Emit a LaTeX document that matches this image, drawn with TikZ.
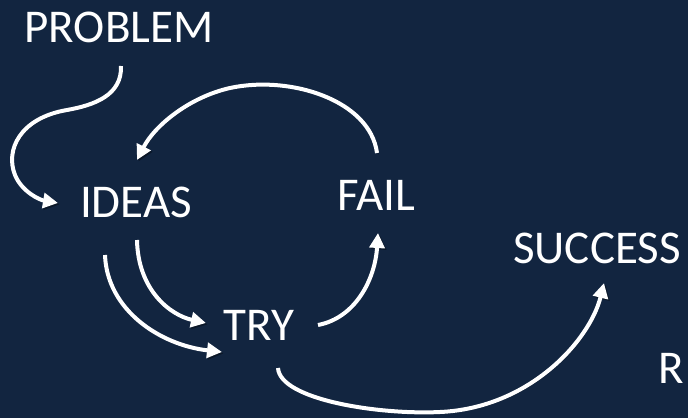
\documentclass[tikz,border=0pt]{standalone}
\usepackage{fontspec}
\setmainfont{Carlito}
\usetikzlibrary{arrows.meta}
\definecolor{bg}{RGB}{18,37,64}
\begin{document}
\begin{tikzpicture}[x=1pt,y=-1pt,
  lbl/.style={text=white,inner sep=0pt,anchor=base,font=\fontsize{47}{56}\selectfont},
  flow/.style={draw=white,line width=4pt,-{Triangle[length=15pt,width=15pt]},
    preaction={draw=black,opacity=0.35,transform canvas={shift={(1.5pt,-1.5pt)}}}}]
\fill[bg] (0,0) rectangle (688,418);
\useasboundingbox (0,0) rectangle (688,418);
\node[lbl] (problem) at (119,42) {PROBLEM};
\node[lbl] (ideas) at (136,217) {IDEAS};
\node[lbl] (fail) at (376,210) {FAIL};
\node[lbl] (try) at (259,340) {TRY};
\node[lbl] (success) at (597,263) {SUCCESS};
\node[lbl] (r) at (671,383) {R};
% endpoints
\coordinate (p1) at (121,66);
\coordinate (i1) at (58,203);
\coordinate (f1) at (377,153);
\coordinate (i2) at (137,160);
\coordinate (i3) at (137,240);
\coordinate (t1) at (206,323);
\coordinate (i4) at (105,255);
\coordinate (t2) at (222,352);
\coordinate (t3) at (318,325);
\coordinate (f2) at (378,233);
\coordinate (t4) at (278,368);
\coordinate (s1) at (604,283);
\draw[flow] (p1) .. controls (122,95) and (95,105) .. (67,110)
  .. controls (20,118) and (5,150) .. (15,175)
  .. controls (22,192) and (40,200) .. (i1);
\draw[flow] (f1) .. controls (370,100) and (290,75) .. (230,88)
  .. controls (190,97) and (155,125) .. (i2);
\draw[flow] (i3) .. controls (138,290) and (170,315) .. (t1);
\draw[flow] (i4) .. controls (107,310) and (160,345) .. (t2);
\draw[flow] (t3) .. controls (355,318) and (375,280) .. (f2);
\draw[flow] (t4) .. controls (280,400) and (380,415) .. (440,412)
  .. controls (530,408) and (590,340) .. (s1);
\end{tikzpicture}
\end{document}
